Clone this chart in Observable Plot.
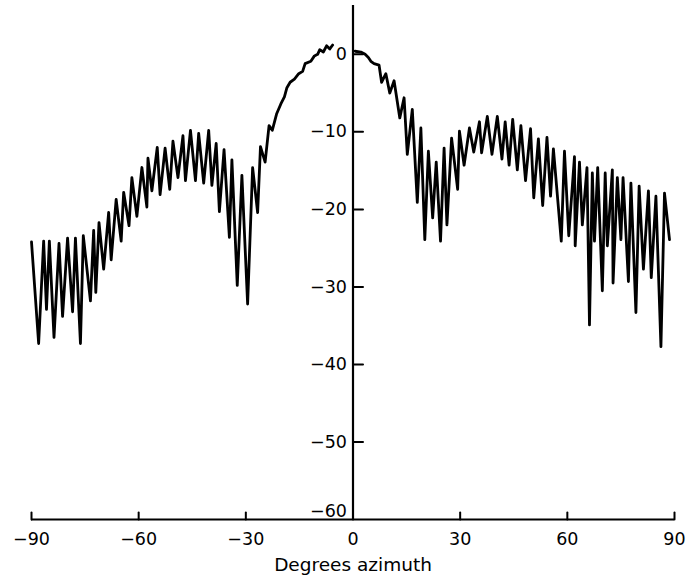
<!DOCTYPE html>
<html><head><meta charset="utf-8">
<script src="https://cdn.jsdelivr.net/npm/d3@7"></script>
<script src="https://cdn.jsdelivr.net/npm/@observablehq/plot@0.6"></script>
<style>body{margin:0;background:#fff}</style>
</head><body><div id="chart"></div>
<script>
// Left lobe (azimuth < 0), degrees and dB
const leftAz = [-90,-88.0,-86.6,-85.8,-85.0,-83.7,-82.3,-81.3,-79.9,-78.5,-77.7,-76.3,-75.5,-73.5,-72.6,-72.0,-71.1,-69.8,-68.4,-67.7,-66.3,-64.9,-64.2,-62.7,-61.9,-60.5,-59.1,-57.7,-57.4,-56.3,-54.8,-54.0,-52.6,-51.3,-50.4,-49.0,-47.6,-46.9,-45.5,-44.1,-43.2,-41.8,-40.4,-39.5,-38.3,-37.4,-36.1,-34.6,-33.9,-32.4,-31.1,-29.5,-28.1,-26.7,-25.9,-24.6,-23.5,-22.6,-21.4,-20.2,-19.2,-18.5,-17.6,-16.4,-15.2,-14.1,-13.4,-11.8,-10.8,-9.9,-9.3,-8.3,-7.4,-6.5,-5.7];
const leftDb = [-24.2,-37.3,-24.1,-32.9,-24.1,-36.5,-24.4,-33.8,-23.7,-33.2,-23.7,-37.3,-23.4,-31.8,-22.7,-30.7,-21.7,-27.7,-20.4,-26.5,-18.7,-24.1,-17.8,-22.1,-15.9,-20.9,-14.6,-19.7,-13.4,-17.6,-12.0,-18.1,-12.1,-17.4,-11.2,-15.9,-10.5,-16.3,-9.8,-16.3,-10.2,-16.6,-9.8,-16.9,-11.5,-20.3,-12.3,-23.6,-13.6,-29.8,-15.6,-32.2,-14.6,-20.4,-11.9,-13.9,-9.2,-9.8,-7.7,-6.4,-5.5,-4.3,-3.6,-3.2,-2.5,-2.2,-1.2,-0.9,-0.2,0,0.6,0.3,1.1,0.7,1.2];
// Right lobe (azimuth > 0)
const rightAz = [0.6,2.2,3.4,4.3,5.0,5.9,7.3,8.0,9.2,10.3,11.5,13.1,14.3,15.2,16.6,18.0,19.0,20.1,21.1,22.3,23.3,24.5,25.5,26.3,27.6,29.3,29.8,31.1,32.6,33.8,35.4,36.0,37.6,38.9,40.4,41.7,42.6,43.7,44.7,46.0,47.0,48.3,49.7,50.6,51.9,53.1,54.3,55.3,56.1,58.3,59.2,60.4,62.0,62.2,63.4,64.2,65.5,66.2,67.0,67.6,68.5,69.8,70.6,71.2,72.6,72.8,74.0,75.0,75.6,77.1,77.8,79.2,80.1,81.3,82.7,83.5,84.8,86.2,87.2,88.6];
const rightDb = [0.4,0.3,0,-0.4,-0.9,-1.2,-1.4,-3.6,-2.5,-5.0,-3.4,-8.2,-5.6,-12.9,-7.1,-19.1,-9.5,-23.9,-12.5,-21.1,-13.9,-24.1,-12.1,-22.0,-10.8,-17.4,-9.9,-14.3,-9.5,-12.6,-8.7,-12.7,-8.0,-12.9,-8.0,-13.5,-8.7,-14.3,-8.4,-14.9,-9.2,-16.3,-9.6,-18.5,-10.9,-19.5,-10.7,-18.3,-12.2,-24.1,-12.5,-23.4,-13.2,-24.7,-13.9,-22.0,-14.6,-34.9,-15.3,-24.1,-14.6,-30.5,-15.3,-24.7,-14.9,-29.5,-15.9,-23.9,-15.9,-29.3,-16.6,-33.3,-17.0,-27.7,-17.6,-28.8,-18.3,-37.7,-17.9,-23.9];

const xTicks = [-90,-60,-30,0,30,60,90];
const xTickLabels = ["−90","−60","−30","0","30","60","90"];
const yTicks = [0,-10,-20,-30,-40,-50];
const yTickLabels = ["0","−10","−20","−30","−40","−50"];
const yBottomTick = [-60];
const yBottomLabel = ["−60"];
const xLabel = "Degrees azimuth";

const left = leftAz.map((a,i)=>({az:a, db:leftDb[i]}));
const right = rightAz.map((a,i)=>({az:a, db:rightDb[i]}));
const tickShape = {draw(ctx, l){ ctx.moveTo(0,0); ctx.lineTo(0,-l); }};
const font = "'DejaVu Sans', sans-serif";
const fs = 17.5;

const chart = Plot.plot({
  width: 686, height: 578,
  marginLeft: 31, marginRight: 12, marginTop: 5, marginBottom: 59,
  x: {domain: [-90, 90], axis: null},
  y: {domain: [-60, 6.3], axis: null},
  style: {fontFamily: font, fontSize: "17px", background: "white", color: "black"},
  marks: [
    Plot.line(left, {x: "az", y: "db", stroke: "black", strokeWidth: 2.8}),
    Plot.line(right, {x: "az", y: "db", stroke: "black", strokeWidth: 2.8}),
    Plot.ruleY([-60], {stroke: "black", strokeWidth: 2.2}),
    Plot.ruleX([0], {stroke: "black", strokeWidth: 2.2}),
    Plot.vector(xTicks, {x: d => d, y: () => -60, length: 7, anchor: "start", shape: tickShape, stroke: "black", strokeWidth: 2}),
    Plot.vector(yTicks, {x: () => 0, y: d => d, length: 10, rotate: 90, anchor: "start", shape: tickShape, stroke: "black", strokeWidth: 2}),
    Plot.text(xTicks, {x: d => d, y: () => -60, text: (d, i) => xTickLabels[i], dy: 20, fill: "black", fontSize: fs}),
    Plot.text(yTicks, {x: () => 0, y: d => d, text: (d, i) => yTickLabels[i], textAnchor: "end", dx: -6, fill: "black", fontSize: fs}),
    Plot.text(yBottomTick, {x: () => 0, y: d => d, text: (d, i) => yBottomLabel[i], textAnchor: "end", dx: -6, dy: -8, fill: "black", fontSize: fs}),
    Plot.text([xLabel], {frameAnchor: "bottom", dy: 51, fill: "black", fontSize: 18.5})
  ]
});
document.getElementById("chart").appendChild(chart);
</script>
</body></html>
